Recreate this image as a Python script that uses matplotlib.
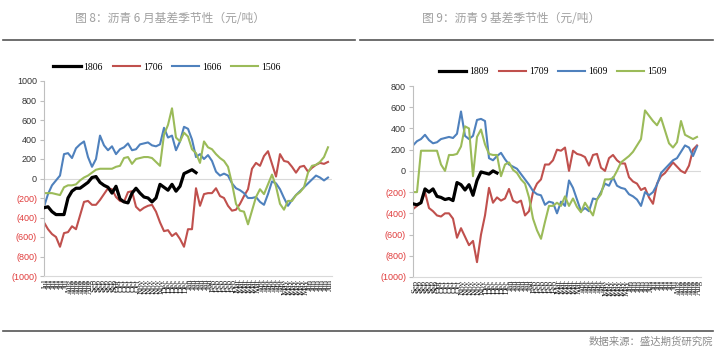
import matplotlib
matplotlib.use('Agg')
import matplotlib.pyplot as plt
import numpy as np

plt.rcParams['font.family'] = ['Liberation Sans', 'Noto Sans CJK SC']

# ---- left chart: asphalt June contract basis (weekly samples) ----
left_names = ['1806', '1706', '1606', '1506']
b1806 = [-300, -290, -340, -370, -370, -370, -200, -130, -100, -100, -70, -40, 10, 20, -40, -70,
         -90, -150, -80, -210, -240, -250, -150, -100, -150, -190, -200, -240, -200, -60, -90, -120,
         -60, -130, -80, 50, 70, 90, 60]
b1706 = [-450, -520, -570, -600, -700, -560, -550, -490, -520, -380, -240, -230, -270, -270, -220, -160,
         -100, -110, -190, -230, -240, -140, -130, -290, -330, -300, -280, -270, -340, -450, -540, -530,
         -590, -560, -620, -700, -520, -520, -100, -280, -160, -150, -150, -100, -180, -200, -280, -330,
         -320, -260, -180, -110, 100, 160, 130, 230, 280, 150, 20, 250, 180, 170, 120, 60, 120, 130,
         70, 110, 140, 160, 150, 170]
b1606 = [-290, -160, -70, -20, 30, 250, 260, 210, 310, 350, 380, 220, 120, 200, 440, 340,
         290, 330, 250, 300, 320, 360, 290, 300, 350, 360, 370, 340, 330, 350, 520, 420,
         440, 290, 380, 530, 510, 400, 220, 250, 200, 240, 180, 70, 30, 50, 30, -50,
         -100, -120, -150, -200, -200, -190, -240, -270, -160, -30, -50, -110, -200, -280, -220, -170,
         -130, -90, -50, -10, 30, 10, -20, 10]
b1506 = [-150, -150, -150, -160, -170, -90, -70, -70, -60, -20, 10, 30, 60, 90, 100, 100,
         100, 100, 120, 130, 210, 220, 150, 200, 210, 220, 220, 210, 170, 130, 450, 550,
         720, 420, 380, 470, 430, 300, 260, 160, 380, 320, 300, 250, 210, 180, 120, -50,
         -260, -330, -340, -470, -330, -190, -110, -160, -60, 40, -80, -260, -320, -230, -230, -170,
         -140, -90, 60, 130, 140, 170, 220, 320]
left_months = ['Jul', 'Aug', 'Sep', 'Oct', 'Nov', 'Dec', 'Jan', 'Feb', 'Mar', 'Apr', 'May', 'Jun']
left_counts = [6, 6, 6, 6, 6, 6, 6, 6, 6, 6, 6, 6]

# ---- right chart: asphalt September contract basis ----
right_names = ['1809', '1709', '1609', '1509']
b1809 = [-310, -320, -300, -170, -200, -170, -240, -250, -270, -260, -280, -110, -130, -180, -130, -230,
         -90, -10, -20, -30, 0, -20]
b1709 = [-360, -330, -300, -200, -350, -380, -420, -430, -400, -400, -450, -630, -540, -620, -700, -660,
         -860, -600, -420, -160, -300, -250, -280, -260, -170, -280, -300, -280, -420, -380, -200, -120,
         -80, 60, 60, 100, 200, 190, 220, 0, 190, 160, 150, 130, 50, 150, 160, 30,
         0, 120, 150, 100, 70, 70, -60, -100, -120, -180, -160, -250, -310, -120, -50, -20,
         30, 80, 40, 0, -20, 50, 200, 240]
b1609 = [240, 280, 300, 340, 290, 260, 270, 300, 310, 320, 310, 350, 560, 330, 300, 330,
         480, 490, 470, 120, 100, 140, 170, 110, 60, 40, 20, -30, -80, -130, -190, -220,
         -230, -320, -290, -300, -400, -290, -330, -90, -160, -270, -380, -350, -380, -260, -270, -200,
         -120, -140, -60, -140, -160, -170, -220, -240, -270, -330, -200, -230, -200, -130, -20, 20,
         60, 100, 120, 180, 240, 220, 140, 230]
b1509 = [-200, -200, 190, 190, 190, 190, 190, 60, 0, 150, 150, 160, 230, 420, 400, -50,
         320, 390, 250, 160, 150, 150, -50, 60, 80, 10, -20, -80, -120, -250, -450, -560,
         -640, -480, -330, -330, -300, -330, -240, -330, -260, -340, -390, -300, -360, -420, -270, -220,
         -80, -80, -70, 0, 80, 110, 140, 180, 240, 300, 570, 520, 470, 430, 500, 380,
         260, 220, 270, 470, 340, 320, 300, 320]
right_months = ['Sep', 'Oct', 'Nov', 'Dec', 'Jan', 'Feb', 'Mar', 'Apr', 'May', 'Jun', 'Jul', 'Aug']
right_counts = [6, 6, 6, 6, 6, 6, 6, 6, 6, 6, 6, 6]

colors = ['#000000', '#c0504d', '#4f81bd', '#9bbb59']
widths = [2.3, 1.5, 1.5, 1.5]


def fmt(v):
    return '(%d)' % abs(v) if v < 0 else '%d' % v


def draw(ax, series, names, months, counts, yticks, npts=72):
    for s, name, c, w in zip(series, names, colors, widths):
        ax.plot(np.arange(len(s)), s, color=c, lw=w, label=name, zorder=3 if c == '#000000' else 2)
    ax.axhline(0, color='#d9d9d9', lw=0.8, zorder=1)
    labels = [m for m, n in zip(months, counts) for _ in range(n)]
    ax.set_xlim(0, npts)
    ax.set_ylim(yticks[0], yticks[-1])
    ax.set_xticks(np.linspace(0, npts, len(labels), endpoint=False) + 0.5)
    ax.set_xticklabels(labels, rotation=90, fontsize=6.3, family='Liberation Serif', color='#222222')
    ax.tick_params(axis='x', length=0, pad=2)
    ax.set_yticks(yticks)
    ax.set_yticklabels([fmt(v) for v in yticks], fontsize=6.5)
    for t, v in zip(ax.get_yticklabels(), yticks):
        t.set_color('#e03c3c' if v < 0 else '#333333')
    ax.tick_params(axis='y', length=3, color='#bfbfbf', pad=2)
    for sp in ['top', 'right']:
        ax.spines[sp].set_visible(False)
    ax.spines['left'].set_color('#bfbfbf')
    ax.spines['bottom'].set_color('#d9d9d9')


fig = plt.figure(figsize=(7.18, 3.53), dpi=100)
W, H = 718, 353

leg_kw = dict(loc='center', bbox_transform=fig.transFigure, ncol=4, frameon=False,
              handlelength=2.8, columnspacing=1.0, handletextpad=0.3,
              prop={'family': 'Liberation Serif', 'size': 7})

ax1 = fig.add_axes([44 / W, 1 - 276 / H, 288 / W, 195 / H])
draw(ax1, [b1806, b1706, b1606, b1506], left_names, left_months, left_counts,
     list(range(-1000, 1001, 200)))
ax1.legend(bbox_to_anchor=(167 / W, 1 - 67 / H), **leg_kw)

ax2 = fig.add_axes([413 / W, 1 - 277 / H, 288 / W, 191 / H])
draw(ax2, [b1809, b1709, b1609, b1509], right_names, right_months, right_counts,
     list(range(-1000, 801, 200)))
ax2.legend(bbox_to_anchor=(553 / W, 1 - 72 / H), **leg_kw)

cjk = ['Noto Sans CJK SC', 'DejaVu Sans']
fig.text(170 / W, 1 - 18 / H, '图 8：沥青 6 月基差季节性（元/吨）', ha='center', va='center',
         fontsize=8.5, color='#a0a0a0', family=cjk)
fig.text(511 / W, 1 - 18 / H, '图 9：沥青 9 基差季节性（元/吨）', ha='center', va='center',
         fontsize=8.5, color='#a0a0a0', family=cjk)
fig.add_artist(plt.Line2D([3 / W, 355 / W], [1 - 40 / H] * 2, color='#555555', lw=1.2))
fig.add_artist(plt.Line2D([360 / W, 713 / W], [1 - 40 / H] * 2, color='#555555', lw=1.2))
fig.add_artist(plt.Line2D([3 / W, 713 / W], [1 - 331 / H] * 2, color='#555555', lw=1.2))
fig.text(713 / W, 1 - 342 / H, '数据来源：盛达期货研究院', ha='right', va='center',
         fontsize=7.5, color='#8a8a8a', family=cjk)

fig.savefig('out.png', dpi=100)
